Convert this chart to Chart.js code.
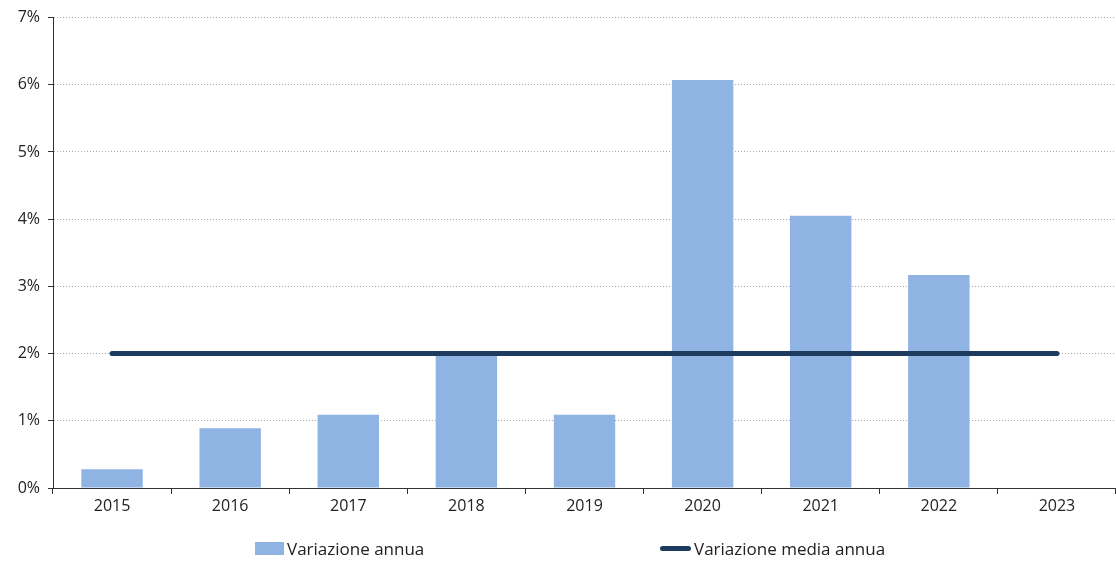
<!DOCTYPE html>
<html>
<head>
<meta charset="utf-8">
<script src="https://cdn.jsdelivr.net/npm/chart.js@4/dist/chart.umd.min.js"></script>
<style>
  body { margin: 0; background: #fff; font-family: "Open Sans", sans-serif; }
  #wrap { position: relative; width: 1116px; height: 561px; }
  .leg { position: absolute; top: 537px; font-size: 17px; color: #222; display: flex; align-items: center; }
  .box { width: 29px; height: 13px; background: #8fb3e3; margin-right: 3px; }
  .ln { width: 31px; height: 5px; border-radius: 3px; background: #1d3a5f; margin-right: 3px; }
</style>
</head>
<body>
<div id="wrap">
  <canvas id="chart" width="1116" height="561"></canvas>
  <div class="leg" style="left:255px"><span class="box"></span>Variazione annua</div>
  <div class="leg" style="left:660px"><span class="ln"></span>Variazione media annua</div>
</div>
<script>
const years = ['2015', '2016', '2017', '2018', '2019', '2020', '2021', '2022', '2023'];
const annualChange = [0.28, 0.89, 1.09, 2.0, 1.09, 6.07, 4.05, 3.17, 0];
const averageChange = [2, 2, 2, 2, 2, 2, 2, 2, 2];
const yTicks = [0, 1, 2, 3, 4, 5, 6, 7];

const ctx = document.getElementById('chart').getContext('2d');
const chart = new Chart(ctx, {
  type: 'bar',
  data: {
    labels: years,
    datasets: [{
      type: 'line',
      label: 'Variazione media annua',
      data: averageChange,
      borderColor: '#1d3a5f',
      borderWidth: 5,
      borderCapStyle: 'round',
      pointRadius: 0,
      order: 0
    }, {
      label: 'Variazione annua',
      data: annualChange,
      backgroundColor: '#8fb3e3',
      categoryPercentage: 1,
      barPercentage: 0.52,
      order: 1
    }]
  },
  options: {
    responsive: false,
    animation: false,
    layout: { padding: { top: 16, right: 0, left: 0, bottom: 0 } },
    plugins: {
      legend: { display: false },
      tooltip: { enabled: false }
    },
    scales: {
      x: {
        afterFit: scale => { scale.height = 73; },
        border: { color: '#333', width: 1 },
        grid: {
          offset: true,
          drawOnChartArea: false,
          drawTicks: true,
          tickLength: 6,
          tickColor: '#333'
        },
        ticks: { color: '#222', font: { family: 'Open Sans', size: 16 }, padding: 3 }
      },
      y: {
        min: 0,
        max: 7,
        afterFit: scale => { scale.width = 53; },
        afterBuildTicks: scale => { scale.ticks = yTicks.map(v => ({ value: v })); },
        border: { color: '#333', width: 1, dash: [1, 2] },
        grid: {
          color: '#a8a8a8',
          tickColor: '#333',
          tickBorderDash: [],
          tickLength: 5
        },
        ticks: {
          color: '#222',
          font: { family: 'Open Sans', size: 16 },
          padding: 8,
          callback: v => v + '%'
        }
      }
    }
  }
});
</script>
</body>
</html>
